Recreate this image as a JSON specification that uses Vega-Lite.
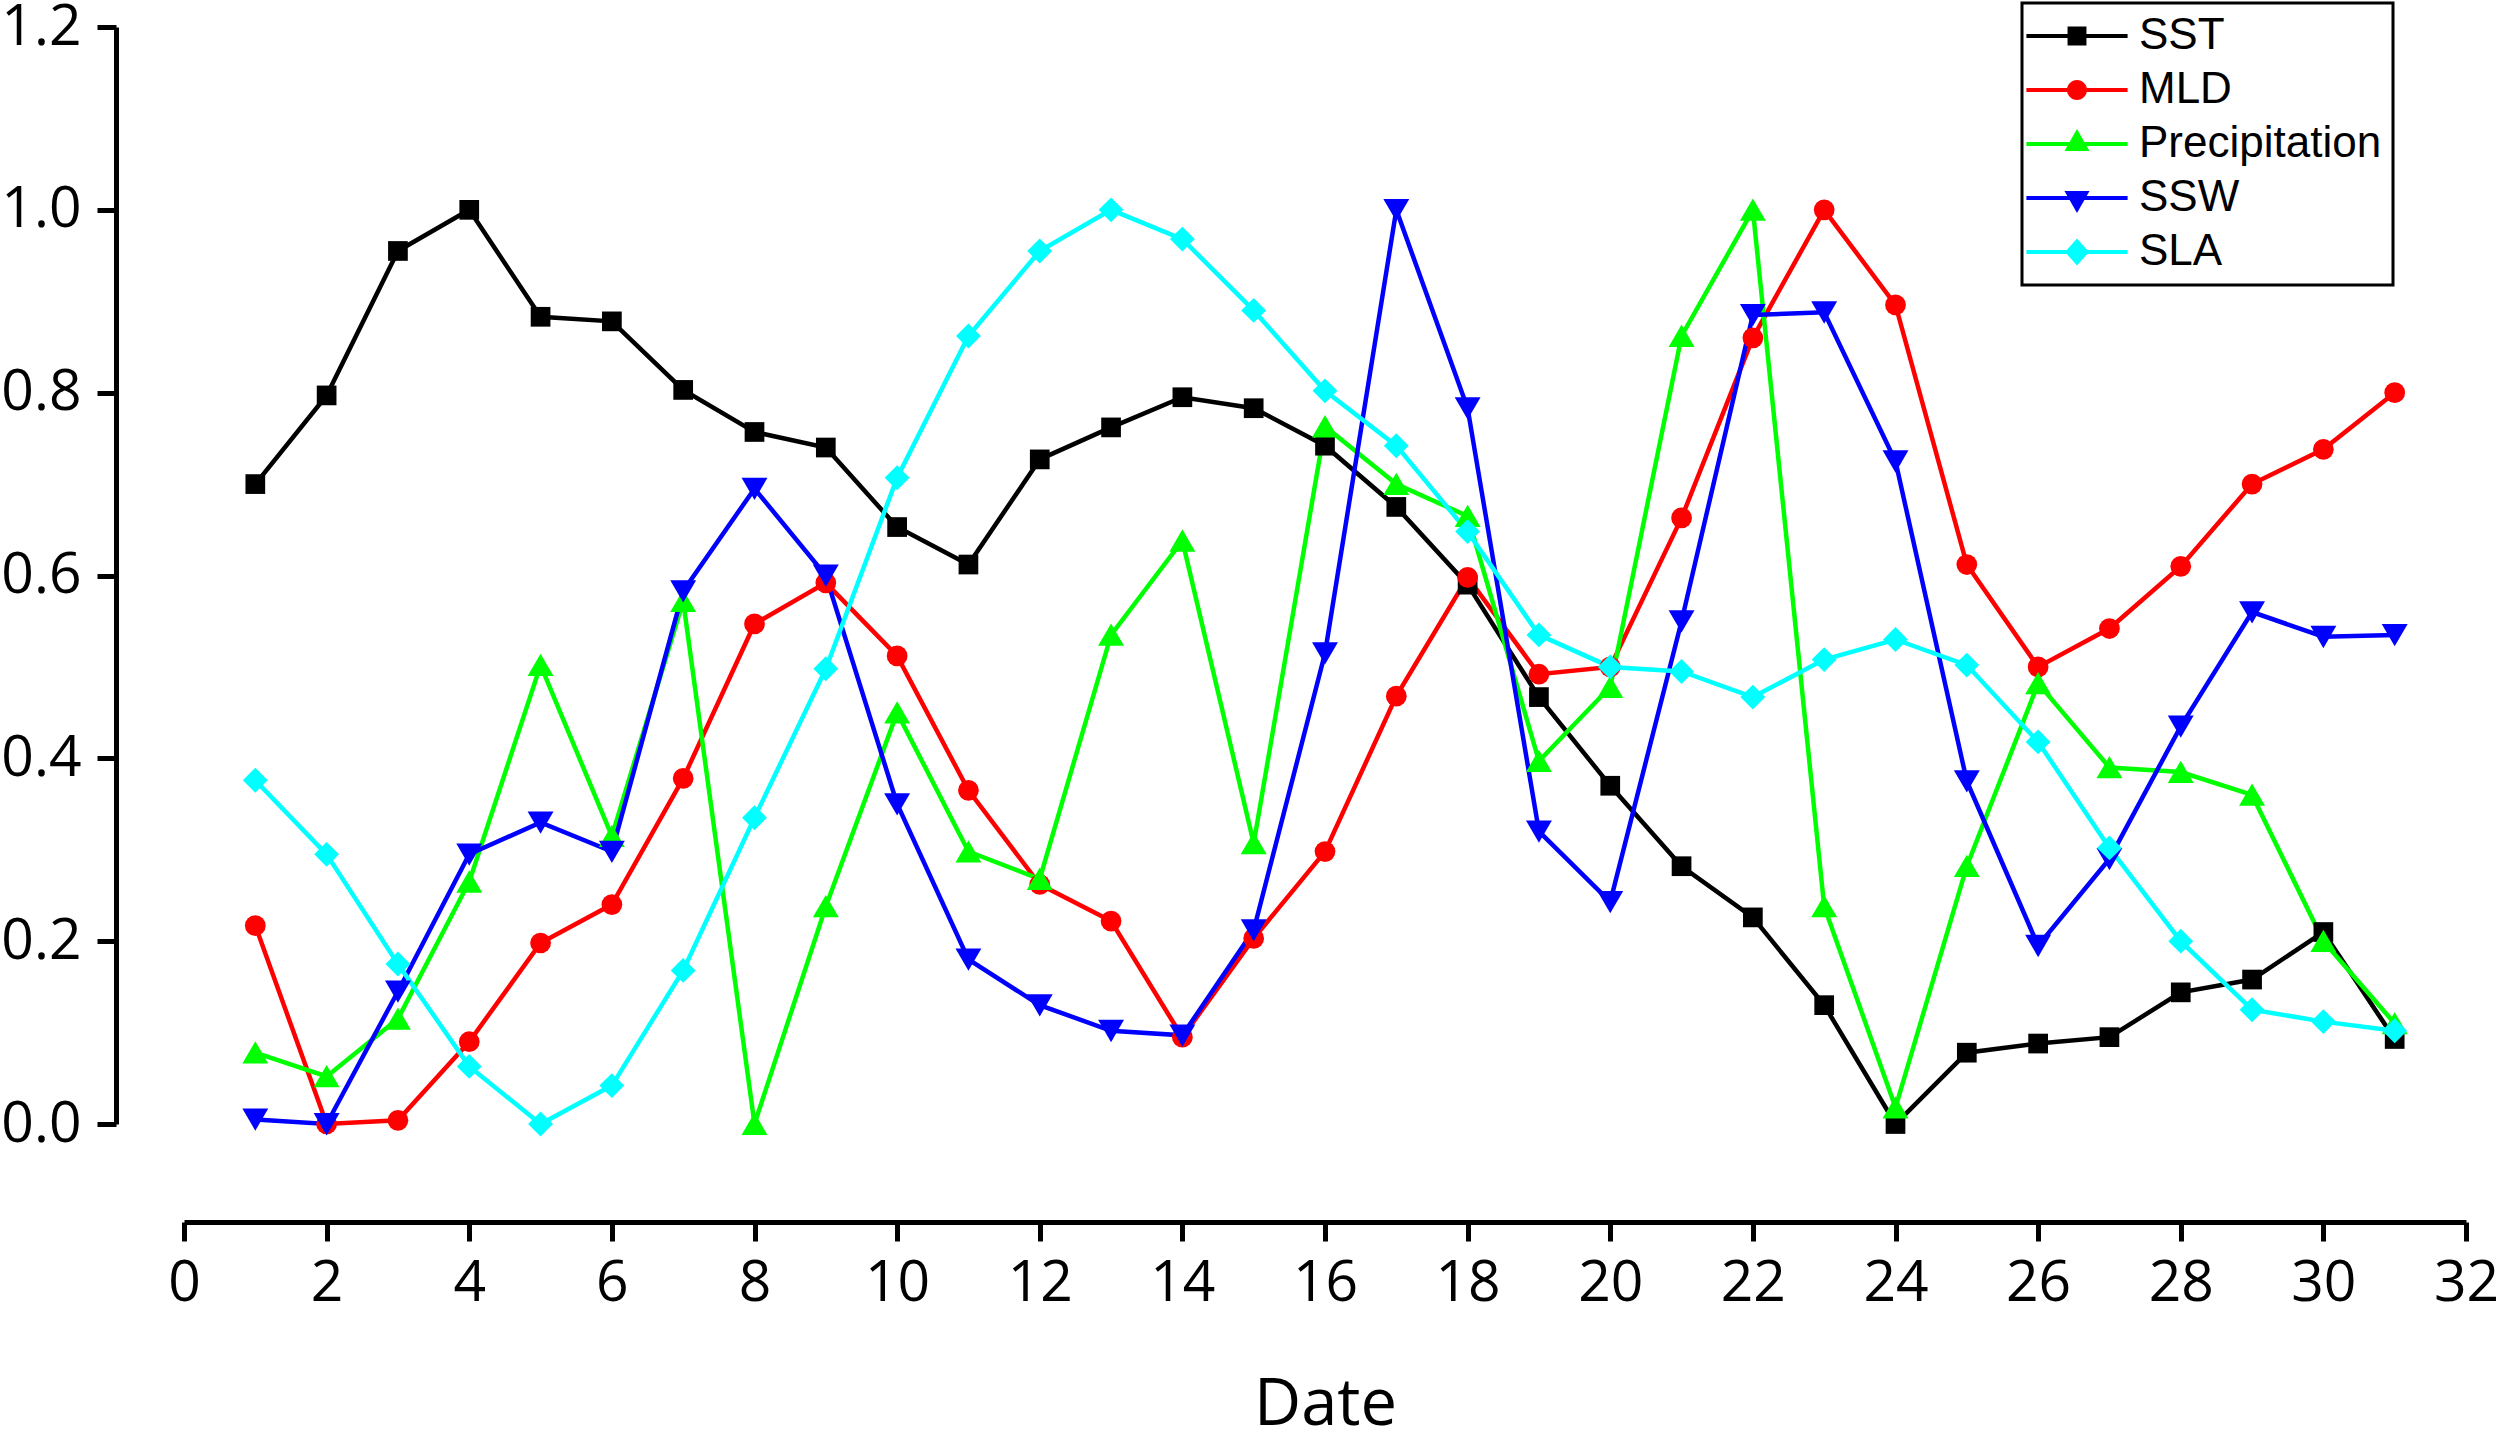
{
  "$schema": "https://vega.github.io/schema/vega-lite/v6.json",
  "background": "white",
  "autosize": {"type": "none"},
  "padding": {"left": 184, "top": 27, "right": 34, "bottom": 316},
  "width": 2282,
  "height": 1097,
  "config": {
    "view": {"stroke": null},
    "legend": {"strokeWidth": 3},
    "axis": {
      "labelFont": "Open Sans",
      "labelFontSize": 57,
      "labelColor": "black",
      "domainColor": "black",
      "domainWidth": 5,
      "tickColor": "black",
      "tickWidth": 5,
      "tickSize": 19,
      "grid": false,
      "titleFont": "Open Sans",
      "titleFontWeight": "normal",
      "titleColor": "black"
    }
  },
  "data": {
    "values": [
      {"d": 1, "s": "SST", "v": 0.700}, {"d": 2, "s": "SST", "v": 0.797}, {"d": 3, "s": "SST", "v": 0.955},
      {"d": 4, "s": "SST", "v": 1.000}, {"d": 5, "s": "SST", "v": 0.883}, {"d": 6, "s": "SST", "v": 0.878},
      {"d": 7, "s": "SST", "v": 0.803}, {"d": 8, "s": "SST", "v": 0.757}, {"d": 9, "s": "SST", "v": 0.740},
      {"d": 10, "s": "SST", "v": 0.653}, {"d": 11, "s": "SST", "v": 0.612}, {"d": 12, "s": "SST", "v": 0.727},
      {"d": 13, "s": "SST", "v": 0.762}, {"d": 14, "s": "SST", "v": 0.795}, {"d": 15, "s": "SST", "v": 0.783},
      {"d": 16, "s": "SST", "v": 0.742}, {"d": 17, "s": "SST", "v": 0.675}, {"d": 18, "s": "SST", "v": 0.590},
      {"d": 19, "s": "SST", "v": 0.467}, {"d": 20, "s": "SST", "v": 0.370}, {"d": 21, "s": "SST", "v": 0.282},
      {"d": 22, "s": "SST", "v": 0.226}, {"d": 23, "s": "SST", "v": 0.130}, {"d": 24, "s": "SST", "v": 0.000},
      {"d": 25, "s": "SST", "v": 0.078}, {"d": 26, "s": "SST", "v": 0.088}, {"d": 27, "s": "SST", "v": 0.095},
      {"d": 28, "s": "SST", "v": 0.144}, {"d": 29, "s": "SST", "v": 0.158}, {"d": 30, "s": "SST", "v": 0.210},
      {"d": 31, "s": "SST", "v": 0.093},
      {"d": 1, "s": "MLD", "v": 0.217}, {"d": 2, "s": "MLD", "v": 0.000}, {"d": 3, "s": "MLD", "v": 0.004},
      {"d": 4, "s": "MLD", "v": 0.090}, {"d": 5, "s": "MLD", "v": 0.198}, {"d": 6, "s": "MLD", "v": 0.240},
      {"d": 7, "s": "MLD", "v": 0.378}, {"d": 8, "s": "MLD", "v": 0.547}, {"d": 9, "s": "MLD", "v": 0.592},
      {"d": 10, "s": "MLD", "v": 0.512}, {"d": 11, "s": "MLD", "v": 0.365}, {"d": 12, "s": "MLD", "v": 0.262},
      {"d": 13, "s": "MLD", "v": 0.222}, {"d": 14, "s": "MLD", "v": 0.095}, {"d": 15, "s": "MLD", "v": 0.203},
      {"d": 16, "s": "MLD", "v": 0.298}, {"d": 17, "s": "MLD", "v": 0.468}, {"d": 18, "s": "MLD", "v": 0.598},
      {"d": 19, "s": "MLD", "v": 0.492}, {"d": 20, "s": "MLD", "v": 0.500}, {"d": 21, "s": "MLD", "v": 0.663},
      {"d": 22, "s": "MLD", "v": 0.860}, {"d": 23, "s": "MLD", "v": 1.000}, {"d": 24, "s": "MLD", "v": 0.896},
      {"d": 25, "s": "MLD", "v": 0.612}, {"d": 26, "s": "MLD", "v": 0.500}, {"d": 27, "s": "MLD", "v": 0.542},
      {"d": 28, "s": "MLD", "v": 0.610}, {"d": 29, "s": "MLD", "v": 0.700}, {"d": 30, "s": "MLD", "v": 0.738},
      {"d": 31, "s": "MLD", "v": 0.800},
      {"d": 1, "s": "Precipitation", "v": 0.078}, {"d": 2, "s": "Precipitation", "v": 0.052}, {"d": 3, "s": "Precipitation", "v": 0.115},
      {"d": 4, "s": "Precipitation", "v": 0.265}, {"d": 5, "s": "Precipitation", "v": 0.502}, {"d": 6, "s": "Precipitation", "v": 0.315},
      {"d": 7, "s": "Precipitation", "v": 0.572}, {"d": 8, "s": "Precipitation", "v": 0.000}, {"d": 9, "s": "Precipitation", "v": 0.238},
      {"d": 10, "s": "Precipitation", "v": 0.450}, {"d": 11, "s": "Precipitation", "v": 0.298}, {"d": 12, "s": "Precipitation", "v": 0.268},
      {"d": 13, "s": "Precipitation", "v": 0.535}, {"d": 14, "s": "Precipitation", "v": 0.638}, {"d": 15, "s": "Precipitation", "v": 0.307},
      {"d": 16, "s": "Precipitation", "v": 0.763}, {"d": 17, "s": "Precipitation", "v": 0.700}, {"d": 18, "s": "Precipitation", "v": 0.665},
      {"d": 19, "s": "Precipitation", "v": 0.397}, {"d": 20, "s": "Precipitation", "v": 0.478}, {"d": 21, "s": "Precipitation", "v": 0.862},
      {"d": 22, "s": "Precipitation", "v": 1.000}, {"d": 23, "s": "Precipitation", "v": 0.238}, {"d": 24, "s": "Precipitation", "v": 0.018},
      {"d": 25, "s": "Precipitation", "v": 0.282}, {"d": 26, "s": "Precipitation", "v": 0.482}, {"d": 27, "s": "Precipitation", "v": 0.390},
      {"d": 28, "s": "Precipitation", "v": 0.385}, {"d": 29, "s": "Precipitation", "v": 0.360}, {"d": 30, "s": "Precipitation", "v": 0.200},
      {"d": 31, "s": "Precipitation", "v": 0.110},
      {"d": 1, "s": "SSW", "v": 0.005}, {"d": 2, "s": "SSW", "v": 0.000}, {"d": 3, "s": "SSW", "v": 0.145},
      {"d": 4, "s": "SSW", "v": 0.295}, {"d": 5, "s": "SSW", "v": 0.330}, {"d": 6, "s": "SSW", "v": 0.298},
      {"d": 7, "s": "SSW", "v": 0.583}, {"d": 8, "s": "SSW", "v": 0.695}, {"d": 9, "s": "SSW", "v": 0.600},
      {"d": 10, "s": "SSW", "v": 0.350}, {"d": 11, "s": "SSW", "v": 0.180}, {"d": 12, "s": "SSW", "v": 0.130},
      {"d": 13, "s": "SSW", "v": 0.102}, {"d": 14, "s": "SSW", "v": 0.097}, {"d": 15, "s": "SSW", "v": 0.212},
      {"d": 16, "s": "SSW", "v": 0.515}, {"d": 17, "s": "SSW", "v": 1.000}, {"d": 18, "s": "SSW", "v": 0.783},
      {"d": 19, "s": "SSW", "v": 0.320}, {"d": 20, "s": "SSW", "v": 0.243}, {"d": 21, "s": "SSW", "v": 0.550},
      {"d": 22, "s": "SSW", "v": 0.885}, {"d": 23, "s": "SSW", "v": 0.888}, {"d": 24, "s": "SSW", "v": 0.725},
      {"d": 25, "s": "SSW", "v": 0.375}, {"d": 26, "s": "SSW", "v": 0.195}, {"d": 27, "s": "SSW", "v": 0.290},
      {"d": 28, "s": "SSW", "v": 0.435}, {"d": 29, "s": "SSW", "v": 0.560}, {"d": 30, "s": "SSW", "v": 0.533},
      {"d": 31, "s": "SSW", "v": 0.535},
      {"d": 1, "s": "SLA", "v": 0.376}, {"d": 2, "s": "SLA", "v": 0.295}, {"d": 3, "s": "SLA", "v": 0.175},
      {"d": 4, "s": "SLA", "v": 0.063}, {"d": 5, "s": "SLA", "v": 0.000}, {"d": 6, "s": "SLA", "v": 0.042},
      {"d": 7, "s": "SLA", "v": 0.168}, {"d": 8, "s": "SLA", "v": 0.335}, {"d": 9, "s": "SLA", "v": 0.498},
      {"d": 10, "s": "SLA", "v": 0.707}, {"d": 11, "s": "SLA", "v": 0.862}, {"d": 12, "s": "SLA", "v": 0.955},
      {"d": 13, "s": "SLA", "v": 1.000}, {"d": 14, "s": "SLA", "v": 0.968}, {"d": 15, "s": "SLA", "v": 0.890},
      {"d": 16, "s": "SLA", "v": 0.802}, {"d": 17, "s": "SLA", "v": 0.742}, {"d": 18, "s": "SLA", "v": 0.648},
      {"d": 19, "s": "SLA", "v": 0.535}, {"d": 20, "s": "SLA", "v": 0.500}, {"d": 21, "s": "SLA", "v": 0.495},
      {"d": 22, "s": "SLA", "v": 0.467}, {"d": 23, "s": "SLA", "v": 0.508}, {"d": 24, "s": "SLA", "v": 0.530},
      {"d": 25, "s": "SLA", "v": 0.502}, {"d": 26, "s": "SLA", "v": 0.418}, {"d": 27, "s": "SLA", "v": 0.302},
      {"d": 28, "s": "SLA", "v": 0.200}, {"d": 29, "s": "SLA", "v": 0.125}, {"d": 30, "s": "SLA", "v": 0.112},
      {"d": 31, "s": "SLA", "v": 0.102}
    ]
  },
  "encoding": {
    "x": {
      "field": "d",
      "type": "quantitative",
      "scale": {"domain": [0, 32], "nice": false, "zero": false},
      "axis": {
        "title": "Date",
        "titleFontSize": 65,
        "titlePadding": 62,
        "offset": 98,
        "values": [0, 2, 4, 6, 8, 10, 12, 14, 16, 18, 20, 22, 24, 26, 28, 30, 32],
        "format": "d",
        "labelPadding": 14,
        "labelFlush": false,
        "labelOverlap": false
      }
    },
    "y": {
      "field": "v",
      "type": "quantitative",
      "scale": {"domain": [0, 1.2], "nice": false},
      "axis": {
        "title": null,
        "offset": 68,
        "values": [0, 0.2, 0.4, 0.6, 0.8, 1.0, 1.2],
        "format": ".1f",
        "labelPadding": 16,
        "labelFlush": false,
        "labelOverlap": false
      }
    }
  },
  "layer": [
    {
      "mark": {"type": "line", "strokeWidth": 4.5},
      "encoding": {
        "stroke": {
          "field": "s",
          "type": "nominal",
          "scale": {
            "domain": ["SLA", "SSW", "Precipitation", "MLD", "SST"],
            "range": ["#00ffff", "#0000ff", "#00ff00", "#ff0000", "#000000"]
          },
          "legend": null
        }
      }
    },
    {
      "mark": {"type": "point", "filled": true, "size": 430, "opacity": 1},
      "encoding": {
        "color": {
          "field": "s",
          "type": "nominal",
          "scale": {
            "domain": ["SST", "MLD", "Precipitation", "SSW", "SLA"],
            "range": ["#000000", "#ff0000", "#00ff00", "#0000ff", "#00ffff"]
          },
          "legend": {
            "title": null,
            "orient": "none",
            "legendX": 1838,
            "legendY": -24,
            "padding": 11,
            "strokeColor": "black",
            "symbolSize": 484,
            "symbolStrokeWidth": 0,
            "symbolOffset": 22,
            "labelOffset": 40,
            "labelLimit": 600,
            "rowPadding": 10,
            "labelFont": "Liberation Sans",
            "labelFontSize": 44,
            "labelColor": "black",
            "symbolType": {"expr": "datum.value === 'SST' ? 'M-4.6,-0.18H4.6V0.18H-4.6ZM-0.86,-0.86H0.86V0.86H-0.86Z' : datum.value === 'MLD' ? 'M-4.6,-0.18H4.6V0.18H-4.6ZM0.91,0A0.91,0.91,0,1,1,-0.91,0A0.91,0.91,0,1,1,0.91,0Z' : datum.value === 'Precipitation' ? 'M-4.6,-0.18H4.6V0.18H-4.6ZM0,-1.36L1.14,0.64L-1.14,0.64Z' : datum.value === 'SSW' ? 'M-4.6,-0.18H4.6V0.18H-4.6ZM0,1.36L-1.14,-0.64L1.14,-0.64Z' : 'M-4.6,-0.18H4.6V0.18H-4.6ZM0,-1.23L1.09,0L0,1.23L-1.09,0Z'"}
          }
        },
        "shape": {
          "field": "s",
          "type": "nominal",
          "scale": {
            "domain": ["SLA", "SSW", "Precipitation", "MLD", "SST"],
            "range": [
              "M0,-1.2L1.2,0L0,1.2L-1.2,0Z",
              "M0,1.1L1.25,-1.05L-1.25,-1.05Z",
              "M0,-1.1L1.25,1.05L-1.25,1.05Z",
              "circle",
              "M-0.95,-0.95H0.95V0.95H-0.95Z"
            ]
          },
          "legend": null
        }
      }
    }
  ]
}
